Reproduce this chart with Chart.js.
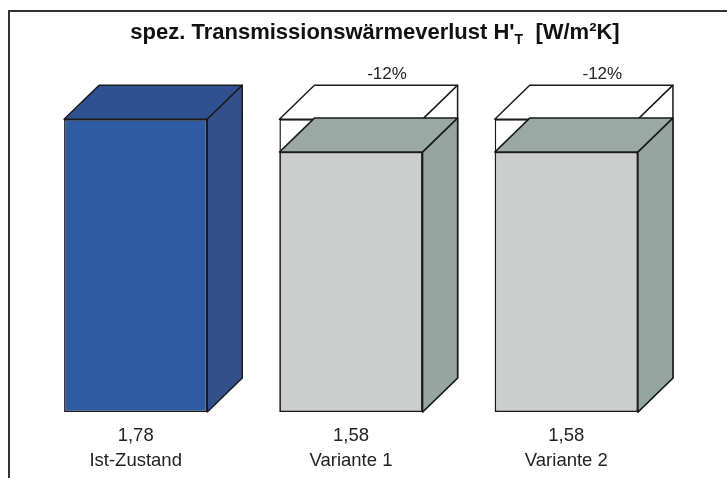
<!DOCTYPE html>
<html>
<head>
<meta charset="utf-8">
<script src="https://cdn.jsdelivr.net/npm/chart.js@4"></script>
<style>
  html, body { margin: 0; padding: 0; background: #fff; }
  #wrap { position: relative; width: 727px; height: 478px; overflow: hidden; }
  #frame { position: absolute; left: 8px; top: 10px; width: 740px; height: 500px;
           border-left: 2px solid #333; border-top: 2px solid #333; box-sizing: border-box; }
  #title { position: absolute; left: 0; width: 750px; top: 19px; text-align: center;
           font: bold 22px "Liberation Sans", Arial, sans-serif; color: #111; }
  #title sub { font-size: 14px; vertical-align: -5px; line-height: 0; }
  canvas { position: absolute; left: 0; top: 0; }
</style>
</head>
<body>
<div id="wrap">
  <div id="frame"></div>
  <canvas id="chart" width="727" height="478"></canvas>
  <div id="title">spez. Transmissionswärmeverlust H'<sub>T</sub>&nbsp; [W/m²K]</div>
</div>
<script>
// --- DATA ---
const categories = ['Ist-Zustand', 'Variante 1', 'Variante 2'];
const values = [1.78, 1.58, 1.58];
const referenceValues = [null, 1.78, 1.78];   // Ist-Zustand als Vergleichsrahmen
const changeLabels = ['', '-12%', '-12%'];

// --- STYLE ---
const DEPTH_X = 35, DEPTH_Y = 34;
const FRONT = ['#2e5ba2', '#cbcecd', '#cbcecd'];
const TOP = ['#30518f', '#9aa9a4', '#9aa9a4'];
const SIDE = ['#34508a', '#95a5a0', '#95a5a0'];
const FONT = '"Liberation Sans", Arial, sans-serif';

const fmt = v => v.toFixed(2).replace('.', ',');

function poly(ctx, pts, fill) {
    ctx.beginPath();
    ctx.moveTo(pts[0][0], pts[0][1]);
    for (let i = 1; i < pts.length; i++) ctx.lineTo(pts[i][0], pts[i][1]);
    ctx.closePath();
    ctx.fillStyle = fill;
    ctx.fill();
    ctx.stroke();
}

// zeichnet Deckel und Seitenfläche zu jedem Balken
const box3d = {
    id: 'box3d',
    afterDatasetDraw(chart, args) {
        const ctx = chart.ctx;
        const ds = chart.data.datasets[args.index];
        const ghost = !!ds.ghost;
        ctx.save();
        ctx.strokeStyle = '#1a1a1a';
        ctx.lineWidth = 1.5;
        ctx.lineJoin = 'round';
        args.meta.data.forEach((bar, i) => {
            if (ds.data[i] == null) return;
            const { x, y, base, width } = bar.getProps(['x', 'y', 'base', 'width'], true);
            const l = x - width / 2, r = x + width / 2;
            const topFill = ghost ? '#ffffff' : TOP[i];
            const sideFill = ghost ? '#ffffff' : SIDE[i];
            poly(ctx, [[l, y], [l + DEPTH_X, y - DEPTH_Y], [r + DEPTH_X, y - DEPTH_Y], [r, y]], topFill);
            poly(ctx, [[r, y], [r + DEPTH_X, y - DEPTH_Y], [r + DEPTH_X, base - DEPTH_Y], [r, base]], sideFill);
            if (ghost && changeLabels[i]) {
                ctx.fillStyle = '#222';
                ctx.font = '17px ' + FONT;
                ctx.textAlign = 'center';
                ctx.textBaseline = 'bottom';
                ctx.fillText(changeLabels[i], x + DEPTH_X + 1, y - DEPTH_Y - 2);
            }
        });
        ctx.restore();
    }
};

new Chart(document.getElementById('chart'), {
    type: 'bar',
    data: {
        labels: categories.map((c, i) => [fmt(values[i]), c]),
        datasets: [
            {
                label: 'Referenz',
                ghost: true,
                data: referenceValues,
                grouped: false,
                order: 2,
                backgroundColor: '#ffffff',
                borderColor: '#1a1a1a',
                borderWidth: 1.5,
                borderSkipped: false,
                barPercentage: 0.665,
                categoryPercentage: 1
            },
            {
                label: 'H\'T',
                data: values,
                grouped: false,
                order: 1,
                backgroundColor: FRONT,
                borderColor: '#1a1a1a',
                borderWidth: 1.5,
                borderSkipped: false,
                barPercentage: 0.665,
                categoryPercentage: 1
            }
        ]
    },
    options: {
        responsive: false,
        animation: false,
        events: [],
        layout: { padding: { left: 28, right: 53, top: 83, bottom: 0 } },
        plugins: { legend: { display: false }, tooltip: { enabled: false } },
        scales: {
            y: { display: false, min: 0, max: 2 },
            x: {
                grid: { display: false, drawTicks: false },
                border: { display: false },
                ticks: {
                    padding: 11,
                    color: '#222',
                    font: { family: FONT, size: 18.5, lineHeight: 1.35 }
                },
                afterFit: s => { s.height = 66; }
            }
        }
    },
    plugins: [box3d]
});
</script>
</body>
</html>
